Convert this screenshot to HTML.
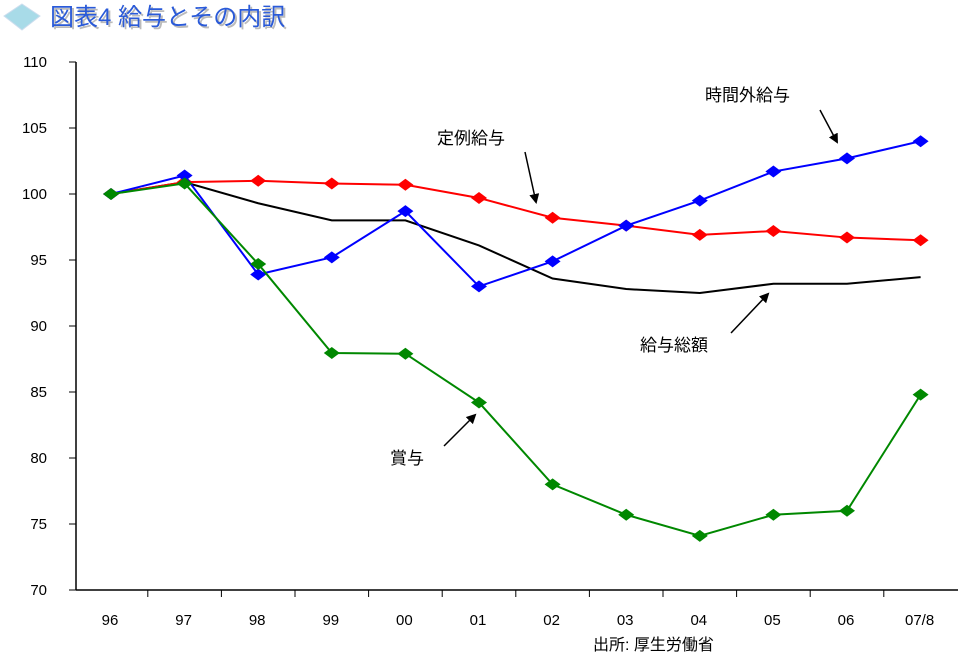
<!DOCTYPE html>
<html><head><meta charset="utf-8"><style>
body{margin:0;background:#fff;}
svg text{font-family:"Liberation Sans","Noto Sans CJK JP",sans-serif;}
</style></head><body>
<svg width="959" height="655" viewBox="0 0 959 655">
<defs><marker id="ah" markerWidth="10" markerHeight="10" refX="8" refY="5" orient="auto" markerUnits="userSpaceOnUse"><path d="M0,0 L10,5 L0,10 z" fill="#000"/></marker></defs>
<g>
<polygon points="22,4 40,16 22,30 4,16" fill="#a8dbe8" stroke="#cde"/>
<text x="52" y="27" font-size="24" fill="#bbb" font-family="Liberation Serif,Noto Serif CJK SC,serif">図表4  給与とその内訳</text>
<text x="50" y="25" font-size="24" fill="#2a5ad8" font-family="Liberation Serif,Noto Serif CJK SC,serif">図表4  給与とその内訳</text>
</g>
<g id="axes"></g>
<g id="series"></g>
<g font-size="17" fill="#000">
<text x="705" y="101">時間外給与</text>
<line x1="820" y1="110" x2="837" y2="142" stroke="#000" stroke-width="1.5" marker-end="url(#ah)"/>
<text x="437" y="144">定例給与</text>
<line x1="525" y1="152" x2="536" y2="202" stroke="#000" stroke-width="1.5" marker-end="url(#ah)"/>
<text x="640" y="351">給与総額</text>
<line x1="731" y1="333" x2="768" y2="294" stroke="#000" stroke-width="1.5" marker-end="url(#ah)"/>
<text x="390" y="464">賞与</text>
<line x1="444" y1="446" x2="475" y2="415" stroke="#000" stroke-width="1.5" marker-end="url(#ah)"/>
</g>
<text x="593" y="650" font-size="16">出所: 厚生労働省</text>
</svg>
<script>
const categories=["96","97","98","99","00","01","02","03","04","05","06","07/8"];
const yTicks=[70,75,80,85,90,95,100,105,110];
const total=[100,100.9,99.3,98.0,98.0,96.1,93.6,92.8,92.5,93.2,93.2,93.7];
const regular=[100,100.9,101.0,100.8,100.7,99.7,98.2,97.6,96.9,97.2,96.7,96.5];
const overtime=[100,101.4,93.9,95.2,98.7,93.0,94.9,97.6,99.5,101.7,102.7,104.0];
const bonus=[100,100.8,94.7,87.95,87.9,84.2,78.0,75.7,74.1,75.7,76.0,84.8];
const NS="http://www.w3.org/2000/svg";
const L=76,R=958,T=62,B=590,ymin=70,ymax=110;
const step=(R-L)/categories.length;
const xs=i=>L+35+73.6*i;
const ys=v=>B-(v-ymin)/(ymax-ymin)*(B-T);
function mk(tag,at,parent){const e=document.createElementNS(NS,tag);for(const k in at)e.setAttribute(k,at[k]);parent.appendChild(e);return e;}
const ax=document.getElementById('axes');
let yl=mk('line',{x1:L,y1:T,x2:L,y2:B,stroke:'#000','stroke-width':1.5},ax);


let xl=mk('line',{x1:L,y1:B,x2:R,y2:B,stroke:'#000','stroke-width':1.5},ax);


yTicks.forEach(v=>{
 mk('line',{x1:L-7,y1:ys(v),x2:L,y2:ys(v),stroke:'#000'},ax);
 const t=mk('text',{x:47,y:ys(v)+5,'text-anchor':'end','font-size':15},ax);t.textContent=v;
 
 
});
categories.forEach((c,i)=>{
 if(i>0)mk('line',{x1:xs(i)-36.8,y1:B,x2:xs(i)-36.8,y2:B+7,stroke:'#000'},ax);
 const t=mk('text',{x:xs(i)-1,y:625,'text-anchor':'middle','font-size':15},ax);t.textContent=c;
 
 
});
const sg=document.getElementById('series');
function series(data,color,name,markers){
 const g=mk('g',{},sg);
 
 
 mk('polyline',{points:data.map((v,i)=>xs(i)+','+ys(v)).join(' '),fill:'none',stroke:color,'stroke-width':2},g);
 if(markers)data.forEach((v,i)=>{
  const x=xs(i),y=ys(v);
  const p=mk('polygon',{points:`${x-8},${y} ${x},${y-6} ${x+8},${y} ${x},${y+6}`,fill:color},g);
  
  
 });
}
series(total,'#000','series-total',false);
series(regular,'#f00','series-regular',true);
series(overtime,'#00f','series-overtime',true);
series(bonus,'#080','series-bonus',true);
</script>
</body></html>
